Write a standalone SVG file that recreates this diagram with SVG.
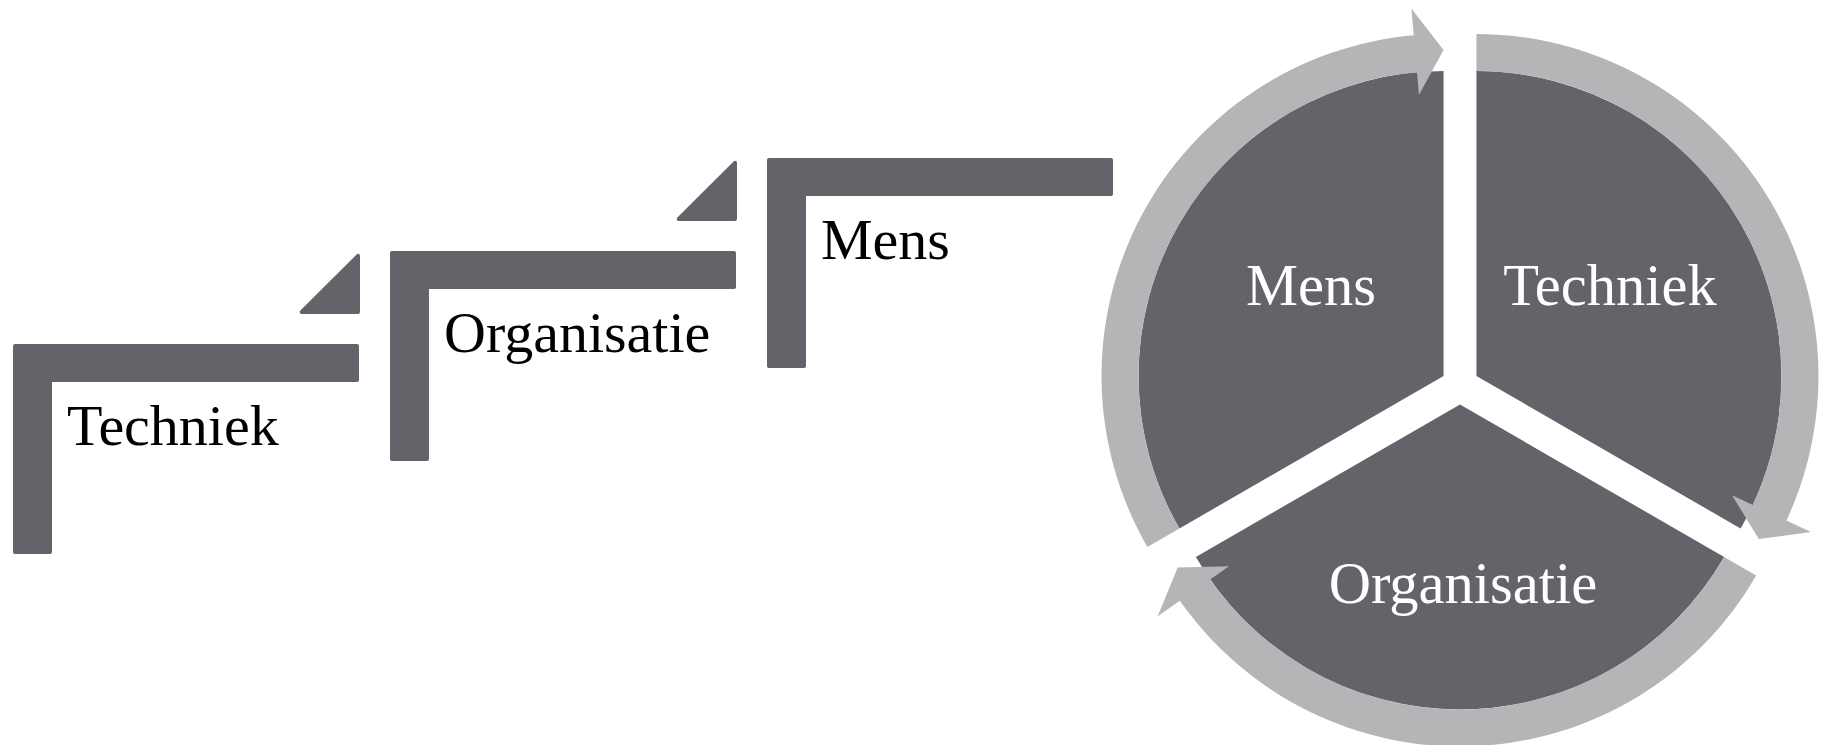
<svg xmlns="http://www.w3.org/2000/svg" width="1825" height="745" viewBox="0 0 1825 745">
<style>
.dk{fill:#636369;stroke:#636369;stroke-width:4;stroke-linejoin:round}
.seg{fill:#636369}
.arr{fill:#b5b5b7}
.lbl{font-family:"Liberation Serif","Times New Roman",serif;font-size:58px;fill:#000}
.wl{font-family:"Liberation Serif","Times New Roman",serif;font-size:58.5px;fill:#fff;text-anchor:middle}
</style>
<defs>
<path id="lshape" d="M15,346 L357,346 L357,380 L50,380 L50,552 L15,552 Z"/>
<path id="tri" d="M301.8,312 L358,312 L358,255.8 Z"/>
<path id="pie" d="M0,0 L-264.14,152.5 A305,305 0 0 1 0,-305 Z"/>
<path id="carrow" d="M-296.18,171 A342,342 0 0 1 -29.81,-340.70 L-32.16,-367.60 L0,-326 L-24.58,-280.93 L-26.58,-303.84 A305,305 0 0 0 -264.14,152.5 Z"/>
</defs>
<g id="step-techniek">
<use href="#lshape" class="dk"/>
<use href="#tri" class="dk"/>
<text class="lbl" x="67" y="445">Techniek</text>
</g>
<g id="step-organisatie" transform="translate(377,-93)">
<use href="#lshape" class="dk"/>
<use href="#tri" class="dk"/>
<text class="lbl" x="67" y="445">Organisatie</text>
</g>
<g id="step-mens" transform="translate(754,-186)">
<use href="#lshape" class="dk"/>
<text class="lbl" x="67" y="445">Mens</text>
</g>
<g id="cycle-mens">
<use href="#pie" class="seg" transform="translate(1443.55,376)"/>
<text class="wl" x="1311" y="305">Mens</text>
</g>
<g id="cycle-techniek">
<use href="#pie" class="seg" transform="translate(1476.45,376) rotate(120)"/>
<text class="wl" x="1610" y="305">Techniek</text>
</g>
<g id="cycle-organisatie">
<use href="#pie" class="seg" transform="translate(1460,404.5) rotate(240)"/>
<text class="wl" x="1463" y="603">Organisatie</text>
</g>
<g id="connectors">
<use href="#carrow" class="arr" transform="translate(1443.55,376)"/>
<use href="#carrow" class="arr" transform="translate(1476.45,376) rotate(120)"/>
<use href="#carrow" class="arr" transform="translate(1460,404.5) rotate(240)"/>
</g>
</svg>
